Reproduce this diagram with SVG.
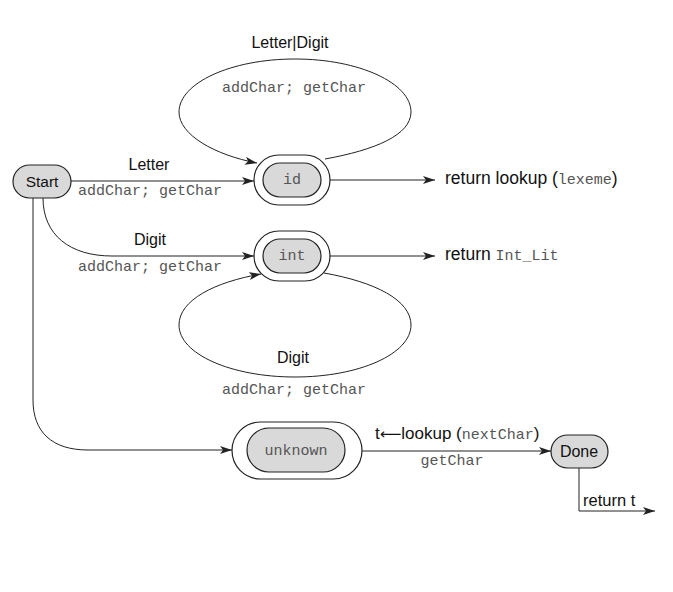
<svg xmlns="http://www.w3.org/2000/svg" width="673" height="592" viewBox="0 0 673 592">
<style>
.node{fill:#d9d9d9;stroke:#222;stroke-width:1.2}
.ring{fill:#fff;stroke:#222;stroke-width:1.2}
.edge{fill:none;stroke:#222;stroke-width:1}
.sans{font-family:"Liberation Sans",Arial,sans-serif;fill:#111}
.mono{font-family:"Liberation Mono","Courier New",monospace;fill:#555;font-size:15px}
</style>
<defs>
<marker id="arr" viewBox="0 0 12 8" refX="12" refY="4" markerWidth="12" markerHeight="8" markerUnits="userSpaceOnUse" orient="auto">
<path d="M0,0 L12,4 L0,8 L3,4 Z" fill="#222"/>
</marker>
</defs>
<rect width="673" height="592" fill="#fff"/>
<g id="connectors">
<path class="edge" d="M71,181 L254,181" marker-end="url(#arr)"/>
<path class="edge" d="M43,198 C43,235 70,256 112,256 L254,256" marker-end="url(#arr)"/>
<path class="edge" d="M33,198 L33,400 C33,432 52,450 88,450 L232,450" marker-end="url(#arr)"/>
<path class="edge" d="M325,159 C375,150 411,135 411,112 C411,83 359,59 295,59 C231,59 179,83 179,112 C179,135 215,155 257,163" marker-end="url(#arr)"/>
<path class="edge" d="M324,273 C375,282 411,300 411,325 C411,354 359,377 295,377 C231,377 179,354 179,325 C179,300 215,282 261,274" marker-end="url(#arr)"/>
<path class="edge" d="M330,180 L435,180" marker-end="url(#arr)"/>
<path class="edge" d="M330,256 L435,256" marker-end="url(#arr)"/>
<path class="edge" d="M362,451 L551,451" marker-end="url(#arr)"/>
<path class="edge" d="M579,468 L579,511 L655,511" marker-end="url(#arr)"/>
</g>
<g id="labels">
<text class="sans" x="290" y="48" font-size="16" text-anchor="middle">Letter|Digit</text>
<text class="mono" x="294" y="92" text-anchor="middle">addChar; getChar</text>
<text class="sans" x="149" y="170" font-size="16" text-anchor="middle">Letter</text>
<text class="mono" x="150" y="195" text-anchor="middle">addChar; getChar</text>
<text class="sans" x="150" y="245" font-size="16" text-anchor="middle">Digit</text>
<text class="mono" x="150" y="271" text-anchor="middle">addChar; getChar</text>
<text class="sans" x="293" y="363" font-size="16" text-anchor="middle">Digit</text>
<text class="mono" x="294" y="394" text-anchor="middle">addChar; getChar</text>
<text class="sans" x="445" y="184" font-size="17.5">return lookup (<tspan class="mono">lexeme</tspan>)</text>
<text class="sans" x="445" y="260" font-size="17.5">return <tspan class="mono">Int_Lit</tspan></text>
<text class="sans" x="375" y="439" font-size="17">t<tspan font-family="'DejaVu Sans',sans-serif" font-size="15">⟵</tspan>lookup (<tspan class="mono">nextChar</tspan>)</text>
<text class="mono" x="452" y="465" text-anchor="middle">getChar</text>
<text class="sans" x="583" y="506" font-size="16.5">return t</text>
</g>
<g id="start">
<rect class="node" x="13" y="165" width="58" height="33" rx="16.5"/>
<text class="sans" x="42" y="187" font-size="15.5" text-anchor="middle">Start</text>
</g>
<g id="id">
<rect class="ring" x="254" y="155" width="76" height="50" rx="25"/>
<rect class="node" x="263" y="163" width="58" height="34" rx="17"/>
<text class="mono" x="292" y="184" text-anchor="middle">id</text>
</g>
<g id="int">
<rect class="ring" x="254" y="231" width="76" height="50" rx="25"/>
<rect class="node" x="263" y="239" width="58" height="34" rx="17"/>
<text class="mono" x="292" y="260" text-anchor="middle">int</text>
</g>
<g id="unknown">
<rect class="ring" x="232" y="422" width="130" height="57" rx="28.5"/>
<rect class="node" x="247" y="428" width="98" height="44" rx="22"/>
<text class="mono" x="296" y="455" text-anchor="middle">unknown</text>
</g>
<g id="done">
<rect class="node" x="551" y="435" width="57" height="33" rx="16.5"/>
<text class="sans" x="579" y="457" font-size="16" text-anchor="middle">Done</text>
</g>
</svg>
